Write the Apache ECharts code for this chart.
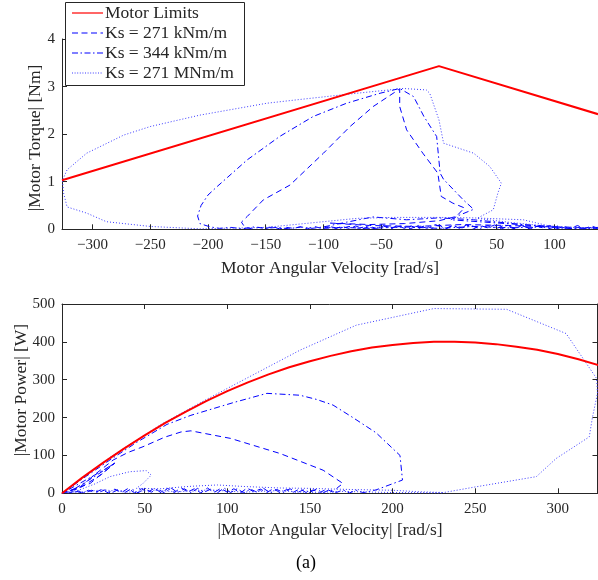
<!DOCTYPE html>
<html>
<head>
<meta charset="utf-8">
<script src="https://cdn.jsdelivr.net/npm/echarts@6/dist/echarts.min.js"></script>
<style>html,body{margin:0;padding:0;background:#fff;}#c{width:598px;height:580px;}</style>
</head>
<body>
<div id="c"></div>
<script>
// ---------- tick labels ----------
const velTicksTop = [-300, -250, -200, -150, -100, -50, 0, 50, 100];
const torqueTicks = [0, 1, 2, 3, 4];
const speedTicksBottom = [0, 50, 100, 150, 200, 250, 300];
const powerTicks = [0, 100, 200, 300, 400, 500];
const seriesNames = ['Motor Limits', 'Ks = 271 kNm/m', 'Ks = 344 kNm/m', 'Ks = 271 MNm/m'];

// ---------- top: torque vs velocity ----------
const limitTop = [[-326.4, 1.03], [0, 3.43], [137.7, 2.42]];
const dashTop = [
  [138,0.02],[132,0.07],[126,0.01],[120,0.08],[114,0.02],[108,0.06],[102,0.01],[96,0.08],[90,0.03],[84,0.07],
  [78,0.01],[72,0.09],[66,0.02],[60,0.07],[54,0.01],[48,0.09],[42,0.03],[36,0.08],[30,0.01],[24,0.09],
  [18,0.02],[12,0.08],[6,0.01],[0,0.09],[-6,0.02],[-12,0.08],[-18,0.01],[-24,0.07],[-30,0.02],[-36,0.08],
  [-42,0.01],[-48,0.07],[-54,0.02],[-60,0.06],[-66,0.01],[-72,0.07],[-78,0.02],[-84,0.06],[-90,0.01],
  [-96,0.05],[-102,0.02],[-108,0.06],[-114,0.01],[-120,0.05],[-126,0.02],[-132,0.04],[-138,0.01],
  [-144,0.05],[-150,0.02],[-156,0.04],[-162,0.01],[-168,0.04],
  [-171,0.15],[-166,0.27],[-152,0.62],[-129,0.93],[-100,1.6],[-77,2.16],[-57,2.58],[-34,2.95],
  [-34,2.58],[-28,2.09],[-14,1.6],[-1,1.18],[2,0.69],[12,0.55],[22,0.45],[15,0.27],
  [0,0.18],[-30,0.12],[-60,0.1],[-94,0.13],[-60,0.08],[-20,0.06],[20,0.1],[60,0.08],[100,0.05],[138,0.03]
];
const dashDotTop = [
  [138,0.04],[115,0.02],[90,0.06],[60,0.13],[30,0.2],[0,0.24],[-28,0.2],[-57,0.26],[-80,0.15],[-100,0.05],
  [-110,0.02],[-120,0.05],[-130,0.01],[-140,0.04],[-150,0.02],[-160,0.05],[-170,0.01],[-180,0.04],[-190,0.02],
  [-198,0.05],[-207,0.12],[-209,0.28],[-206,0.5],[-200,0.72],[-192,0.9],
  [-166,1.46],[-138,1.95],[-109,2.37],[-80,2.65],[-51,2.86],[-34,2.96],[-22,2.79],[-13,2.37],[-2,1.95],
  [1,1.18],[4,1.05],[21,0.62],[30,0.42],[18,0.3],[10,0.2],[40,0.15],[70,0.1],[100,0.06],
  [110,0.02],[103,0.07],[95,0.01],[87,0.08],[80,0.02],[72,0.07],[65,0.01],[57,0.09],[50,0.02],[42,0.08],
  [35,0.01],[27,0.09],[20,0.03],[12,0.08],[5,0.01],[-3,0.1],[-10,0.02],[-18,0.08],[-25,0.01],[-33,0.07],
  [-40,0.02],[-48,0.08],[-55,0.01],[-63,0.06],[-70,0.02],[-78,0.06],[-85,0.01],[-93,0.05],[-100,0.02],
  [-85,0.04],[-60,0.02],[-30,0.05],[0,0.02],[30,0.06],[60,0.03],[90,0.05],[120,0.01],[138,0.02]
];
const dotTop = [
  [138,0.02],[99,0.05],[73,0.2],[30,0.24],[0,0.25],[-40,0.25],[-71,0.23],[-129,0.09],[-150,0.04],[-207,0.01],
  [-250,0.06],[-288,0.16],[-305,0.34],[-322,0.47],[-325,0.76],[-326,1.03],[-322,1.25],[-305,1.6],[-273,1.98],
  [-250,2.16],[-207,2.4],[-149,2.65],[-120,2.73],[-71,2.86],[-31,2.96],[-11,2.93],[-8,2.86],[0,2.3],[4,1.81],
  [30,1.6],[44,1.32],[54,0.97],[51,0.76],[47,0.41],[33,0.23],[60,0.15],[100,0.05],[138,0.03]
];

// ---------- bottom: power vs |velocity| ----------
const limitBottom = [
  [0,0],[12.5,42],[25,81],[37.5,118],[50,153],[62.5,186],[75,216],[87.5,244],[100,270],[112.5,293],
  [125,314],[137.5,333],[150,349],[162.5,363],[175,375],[187.5,385],[200,392],[212.5,397],
  [225,400],[237.5,400],[250,398],[262.5,394],[275,387],[287.5,379],[300,368],[312.5,354],[325,338]
];
const dashBottom = [
  [0,0],[11,17],[20,50],[31,88],[40,108],[49,123],[62,148],[72,162],[78,165],[102,145],[132,105],
  [158,61],[170,26],[167,16],
  [164,3],[160,11],[156,2],[152,9],[148,1],[144,12],[140,3],[136,10],[132,1],[128,13],[124,2],[120,11],
  [116,4],[112,14],[108,1],[104,12],[100,3],[96,13],[92,2],[88,14],[84,1],[80,12],[76,3],[72,15],
  [68,2],[64,13],[60,1],[56,14],[52,3],[48,12],[44,1],[40,13],[36,2],[32,11],[28,1],[24,10],[20,2],
  [16,8],[12,1],[8,6],[4,1],[0,0],
  [17,26],[32,80],[24,50],[10,12],[0,2]
];
const dashDotBottom = [
  [0,0],[15,46],[29,88],[45,134],[63.5,182],[78,206],[104,240],[124,264],[144,259],[154,248],[164,233],
  [176,200],[190,160],[204.5,100],[206,35],[190,9],[184,3],
  [182,2],[178,8],[174,1],[170,9],[166,2],[162,10],[158,1],[154,11],[150,3],[146,9],[142,1],[138,12],
  [134,2],[130,10],[126,1],[122,13],[118,3],[114,11],[110,1],[106,12],[102,2],[98,14],[94,1],[90,11],
  [86,3],[82,13],[78,1],[74,12],[70,2],[66,14],[62,1],[58,11],[54,3],[50,13],[46,1],[42,12],[38,2],
  [34,10],[30,1],[26,9],[22,2],[18,8],[14,1],[10,6],[6,1],[2,3],[0,0],
  [25,61],[32,80],[20,45],[5,5]
];
const dotBottom = [
  [0,0],[30,98],[60,182],[84,240],[110,300],[144,378],[178,444],[225,488],[269,486],[305,422],
  [323.5,303],[324,264],[321,202],[319,149],[299,92],[287,44],[249,16],[231,2],[216,4],[200,8],[175,10],
  [150,13],[132,14],[110,18],[94,22],[80,19],[73,17],[60,12],[45,13],[49,26],[54,48],[51,60],[41,57],
  [29,44],[20,25],[10,8],[0,2],[12,4],[25,9],[40,3],[55,8],[70,4],[90,9],[110,3],[130,7],[150,2],
  [170,5],[200,2],[230,1]
];

const FONT = "'Liberation Serif', 'DejaVu Serif', serif";
const AX = '#262626';
const RED = '#ff0000';
const BLUE = '#0000ff';
const BLUE_DOT = '#3b3bff';

function fmt(v) { return String(v).replace('-', '\u2212'); }
function xAx(grid, min, max, ticks, pos, showLabel) {
  return {
    type: 'value', gridIndex: grid, min: min, max: max, position: pos,
    axisLine: { show: true, onZero: false, lineStyle: { color: AX, width: 1 } },
    axisTick: { show: true, inside: true, length: 5, customValues: ticks, lineStyle: { color: AX } },
    axisLabel: { show: showLabel, customValues: ticks, margin: 8, fontSize: 15, color: AX, fontFamily: FONT, formatter: fmt },
    splitLine: { show: false }
  };
}
function yAx(grid, min, max, ticks, pos, showLabel) {
  return {
    type: 'value', gridIndex: grid, min: min, max: max, position: pos,
    axisLine: { show: true, onZero: false, lineStyle: { color: AX, width: 1 } },
    axisTick: { show: true, inside: true, length: 5, customValues: ticks, lineStyle: { color: AX } },
    axisLabel: { show: showLabel, customValues: ticks, margin: 7, fontSize: 15, color: AX, fontFamily: FONT },
    splitLine: { show: false }
  };
}
function ln(name, data, xi, yi, color, width, type, z) {
  return {
    name: name, type: 'line', data: data, xAxisIndex: xi, yAxisIndex: yi,
    showSymbol: false, symbol: 'none', smooth: false, z: z,
    lineStyle: { color: color, width: width, type: type },
    itemStyle: { color: color }
  };
}

const DASH = [6, 4];
const DASHDOT = [6, 3, 1.5, 3];
const DOT = [1, 2];

// legend drawn as graphic (lines without markers), texts taken from seriesNames
const legendStyles = [
  { stroke: RED, lineWidth: 1.2, lineDash: null },
  { stroke: BLUE, lineWidth: 1.2, lineDash: [6, 3.5] },
  { stroke: BLUE, lineWidth: 1.2, lineDash: [6, 2.5, 1.5, 2.5] },
  { stroke: BLUE_DOT, lineWidth: 1, lineDash: [1, 1.6] }
];
const legendGraphics = [
  { type: 'rect', shape: { x: 65.5, y: 2.5, width: 179, height: 83 }, style: { fill: '#fff', stroke: AX, lineWidth: 1 }, z: 10 }
];
seriesNames.forEach(function (n, i) {
  const y = 13 + 20 * i;
  legendGraphics.push({ type: 'line', shape: { x1: 72, y1: y, x2: 103, y2: y }, style: legendStyles[i], z: 11 });
  legendGraphics.push({ type: 'text', x: 105, y: y, style: { text: n, fontSize: 17.5, fontFamily: FONT, fill: AX, textAlign: 'left', textVerticalAlign: 'middle' }, z: 11 });
});

const option = {
  animation: false,
  backgroundColor: '#fff',
  grid: [
    { left: 62, top: 39, width: 536, height: 190.3 },
    { left: 62, top: 304, width: 535.5, height: 189.3 }
  ],
  xAxis: [
    xAx(0, -326.4, 137.7, velTicksTop, 'bottom', true),
    xAx(1, 0, 324, speedTicksBottom, 'bottom', true),
    xAx(1, 0, 324, speedTicksBottom, 'top', false)
  ],
  yAxis: [
    yAx(0, 0, 4, torqueTicks, 'left', true),
    yAx(1, 0, 500, powerTicks, 'left', true),
    yAx(1, 0, 500, powerTicks, 'right', false)
  ],
  series: [
    ln(seriesNames[1], dashTop, 0, 0, BLUE, 1, DASH, 3),
    ln(seriesNames[2], dashDotTop, 0, 0, BLUE, 1, DASHDOT, 3),
    ln(seriesNames[3], dotTop, 0, 0, BLUE_DOT, 1, DOT, 3),
    ln(seriesNames[0], limitTop, 0, 0, RED, 2, 'solid', 4),
    ln(seriesNames[1], dashBottom, 1, 1, BLUE, 1, DASH, 3),
    ln(seriesNames[2], dashDotBottom, 1, 1, BLUE, 1, DASHDOT, 3),
    ln(seriesNames[3], dotBottom, 1, 1, BLUE_DOT, 1, DOT, 3),
    ln(seriesNames[0], limitBottom, 1, 1, RED, 2, 'solid', 4)
  ],
  graphic: legendGraphics.concat([
    { type: 'text', x: 330, y: 268, style: { text: 'Motor Angular Velocity [rad/s]', fontSize: 17.5, fontFamily: FONT, fill: AX, textAlign: 'center', textVerticalAlign: 'middle' } },
    { type: 'text', x: 35, y: 138, rotation: Math.PI / 2, style: { text: '|Motor Torque| [Nm]', fontSize: 17.5, fontFamily: FONT, fill: AX, textAlign: 'center', textVerticalAlign: 'middle' } },
    { type: 'text', x: 330, y: 530, style: { text: '|Motor Angular Velocity| [rad/s]', fontSize: 17.5, fontFamily: FONT, fill: AX, textAlign: 'center', textVerticalAlign: 'middle' } },
    { type: 'text', x: 21, y: 390, rotation: Math.PI / 2, style: { text: '|Motor Power| [W]', fontSize: 17.5, fontFamily: FONT, fill: AX, textAlign: 'center', textVerticalAlign: 'middle' } },
    { type: 'text', x: 306, y: 563, style: { text: '(a)', fontSize: 18, fontFamily: FONT, fill: '#000', textAlign: 'center', textVerticalAlign: 'middle' } }
  ])
};

const chart = echarts.init(document.getElementById('c'), null, { renderer: 'canvas', width: 598, height: 580 });
chart.setOption(option);
</script>
</body>
</html>
